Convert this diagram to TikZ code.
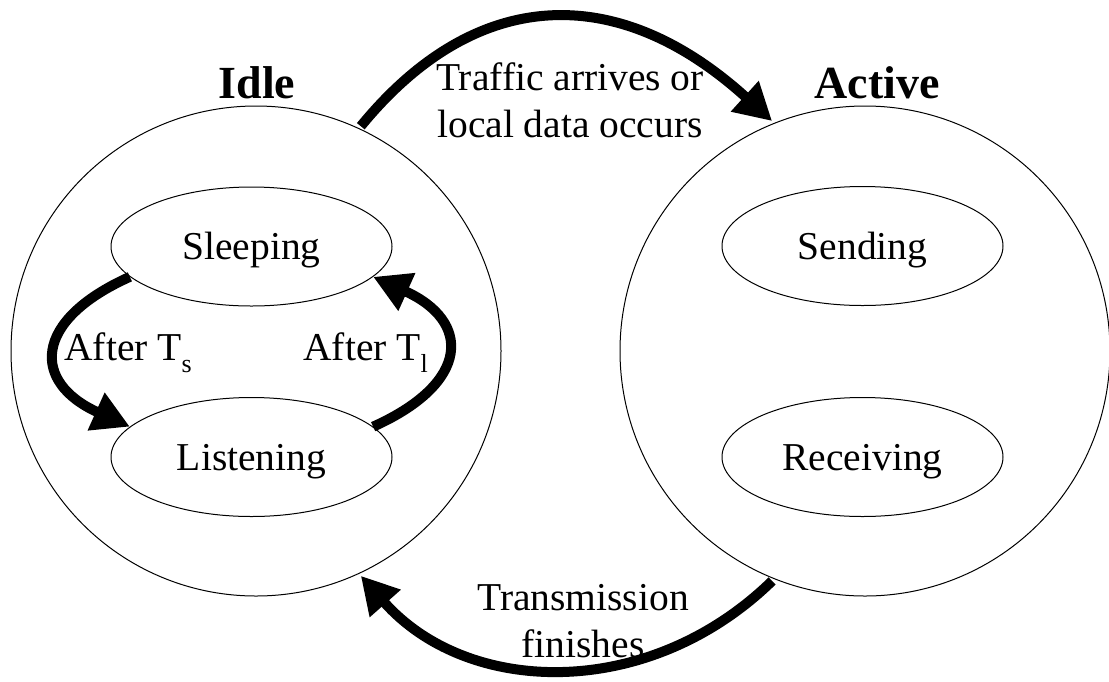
\documentclass[tikz,border=0pt]{standalone}
\usepackage{fontspec}
\setmainfont{Liberation Serif}
\usetikzlibrary{shapes.geometric,arrows.meta}

\newcommand{\lowsub}[1]{\raisebox{-6pt}{\fontsize{13}{15}\selectfont #1}}

\begin{document}
\begin{tikzpicture}[x=0.5pt,y=-0.5pt,
    font=\fontsize{19.75}{23.5}\selectfont,
    mode/.style={draw,line width=0.5pt,circle,minimum size=245pt,inner sep=0pt,outer sep=1.5pt},
    sub/.style={draw,line width=0.5pt,ellipse,minimum width=140.5pt,minimum height=59.5pt,
      inner sep=0pt,text height=13pt,text depth=0pt},
    title/.style={font=\fontsize{23}{27}\selectfont\bfseries,inner sep=0pt,anchor=base},
    lbl/.style={inner sep=0pt,align=center},
    trans/.style={line width=5pt,-{Triangle[length=18.5pt,width=19.5pt]}}]
  \useasboundingbox (0,0) rectangle (1109,681);
  % the two modes
  \node[mode] (idle) at (256,351) {};
  \node[mode] (active) at (865,351) {};
  \node[title] (idlelbl) at (257,98) {Idle};
  \node[title] (activelbl) at (877,98) {Active};
  % states inside
  \node[sub] (sleeping) at (251.5,246.5) {Sleeping};
  \node[sub] (listening) at (251.5,457) {Listening};
  \node[sub] (sending) at (862.5,246) {Sending};
  \node[sub] (receiving) at (862.5,457) {Receiving};
  % transitions
  \draw[trans] (idle.65) .. controls +(117,-143) and +(-152,-138) .. (active.112);
  \draw[trans] (active.-112) .. controls +(-123,120) and +(107,121) .. (idle.-65);
  \draw[trans] (sleeping.194) .. controls +(-98,44) and +(-98,-44) .. (listening.166);
  \draw[trans] (listening.14) .. controls +(98,-44) and +(98,44) .. (sleeping.-14);
  \node[lbl] (trafficlbl) at (570,100) {Traffic arrives or\\local data occurs};
  \node[lbl] (finishlbl) at (583,621.5) {Transmission\\finishes};
  \node[lbl,anchor=base west] (tslbl) at (64,360) {After T\lowsub{s}};
  \node[lbl,anchor=base west] (tllbl) at (303,360) {After T\lowsub{l}};
\end{tikzpicture}
\end{document}
